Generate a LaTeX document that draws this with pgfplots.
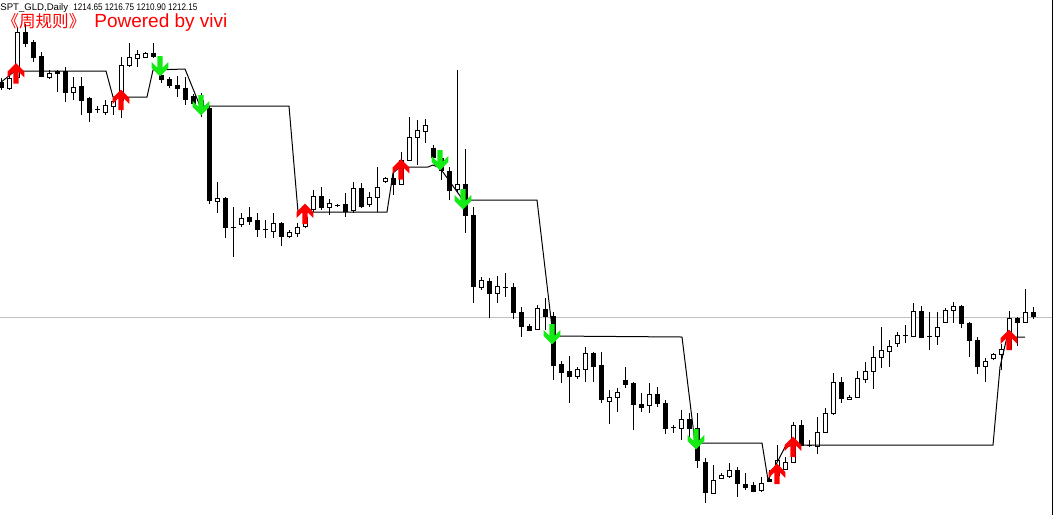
\documentclass[border=0pt]{standalone}
\usepackage{fontspec}
\setmainfont{Liberation Sans}
\newfontfamily\cjk{Noto Sans CJK SC}
\usepackage{graphicx}
\usepackage{pgfplots}
\usepackage{pgfplotstable}
\pgfplotsset{compat=1.18}
\definecolor{upred}{RGB}{255,0,0}
\definecolor{dngreen}{RGB}{20,235,20}
\definecolor{bidgray}{RGB}{192,192,192}
\pgfdeclareplotmark{uparr}{%
  \pgfpathmoveto{\pgfqpoint{0pt}{5.2pt}}%
  \pgfpathlineto{\pgfqpoint{4.2pt}{1pt}}%
  \pgfpathlineto{\pgfqpoint{4.2pt}{-2pt}}%
  \pgfpathlineto{\pgfqpoint{1.3pt}{0.9pt}}%
  \pgfpathlineto{\pgfqpoint{1.3pt}{-5pt}}%
  \pgfpathlineto{\pgfqpoint{-1.3pt}{-5pt}}%
  \pgfpathlineto{\pgfqpoint{-1.3pt}{0.9pt}}%
  \pgfpathlineto{\pgfqpoint{-4.2pt}{-2pt}}%
  \pgfpathlineto{\pgfqpoint{-4.2pt}{1pt}}%
  \pgfpathclose
  \pgfusepathqfill}
\pgfdeclareplotmark{dnarr}{%
  \pgfpathmoveto{\pgfqpoint{0pt}{-5.2pt}}%
  \pgfpathlineto{\pgfqpoint{4.2pt}{-1pt}}%
  \pgfpathlineto{\pgfqpoint{4.2pt}{2pt}}%
  \pgfpathlineto{\pgfqpoint{1.3pt}{-0.9pt}}%
  \pgfpathlineto{\pgfqpoint{1.3pt}{5pt}}%
  \pgfpathlineto{\pgfqpoint{-1.3pt}{5pt}}%
  \pgfpathlineto{\pgfqpoint{-1.3pt}{-0.9pt}}%
  \pgfpathlineto{\pgfqpoint{-4.2pt}{2pt}}%
  \pgfpathlineto{\pgfqpoint{-4.2pt}{-1pt}}%
  \pgfpathclose
  \pgfusepathqfill}
\pgfplotstableread{
x hi lo top bot w
1 78 90 82 87 0
9 75 90 78 88 1
17 27 77 32 77 1
25 24 47 32 43 0
33 40 62 42 57 0
41 52 77 56 76 0
49 70 79 73 77 1
57 70 92 71 73 0
65 67 102 71 92 0
73 77 100 87 92 1
81 77 115 86 100 0
89 97 122 98 112 0
97 106 113 109 109 0
105 100 115 105 112 1
113 97 115 101 106 1
121 57 118 65 100 1
129 43 67 57 65 1
137 50 67 54 58 1
145 52 58 53 57 1
153 43 58 53 56 0
161 72 83 75 79 0
169 77 88 79 85 0
177 76 97 85 88 0
185 77 105 88 99 0
193 94 106 96 103 0
201 93 117 100 110 0
209 106 204 108 200 0
217 182 213 198 201 1
225 197 238 198 227 0
233 207 257 227 227 0
241 213 227 218 224 1
249 207 225 217 221 0
257 213 237 220 229 0
265 220 238 229 229 0
273 213 238 223 231 1
281 222 246 223 236 0
289 230 238 232 236 1
297 223 237 227 233 1
305 212 228 217 226 1
313 190 212 196 209 1
321 187 210 196 207 0
329 199 215 203 207 1
337 204 207 205 205 0
345 193 217 204 211 0
353 182 213 188 210 1
361 183 208 188 206 0
369 192 207 197 204 1
377 167 212 187 197 1
385 177 183 178 181 1
393 170 195 178 184 0
401 152 185 160 184 1
409 117 160 137 160 1
417 120 165 130 137 1
425 119 143 125 131 1
433 145 160 148 157 0
441 150 180 158 170 0
449 167 200 171 190 0
457 70 193 184 189 1
465 149 233 184 215 0
473 207 303 215 286 0
481 277 290 280 287 1
489 278 318 281 293 0
497 276 303 286 293 1
505 273 297 287 287 0
513 283 319 287 312 0
521 307 337 312 326 0
529 324 331 326 330 0
537 305 330 308 329 1
545 298 330 309 316 0
553 312 380 316 365 0
561 361 383 364 372 0
569 356 403 371 376 0
577 367 379 369 376 1
585 347 382 353 369 1
593 352 382 353 366 0
601 352 403 365 399 0
609 390 424 397 401 1
617 388 412 392 397 1
625 367 388 380 384 0
633 382 430 383 404 0
641 393 412 404 407 0
649 383 413 394 405 1
657 387 407 394 403 0
665 400 434 403 428 0
673 425 433 427 427 0
681 410 440 419 428 1
689 413 443 419 428 0
697 413 468 428 460 0
705 458 503 462 492 0
713 465 493 480 493 1
721 473 479 475 478 1
729 463 478 470 476 1
737 467 497 470 483 0
745 473 490 484 487 0
753 482 492 485 491 0
761 477 492 483 490 1
769 470 482 479 481 0
777 445 483 460 475 1
785 457 470 462 469 1
793 422 463 425 462 1
801 420 446 425 445 0
809 440 447 445 445 0
817 417 454 432 446 1
825 408 433 413 432 1
833 373 415 382 413 1
841 377 403 382 398 0
849 395 400 397 399 1
857 371 398 378 397 1
865 362 383 371 379 1
873 346 389 357 371 1
881 327 368 350 357 1
889 340 367 346 351 1
897 332 347 335 343 1
905 325 343 335 335 0
913 303 337 311 336 1
921 306 338 311 337 0
929 312 350 336 336 0
937 312 345 327 336 1
945 308 323 310 322 1
953 302 323 306 310 1
961 305 328 306 323 0
969 322 357 323 340 0
977 337 374 340 366 0
985 358 382 361 366 1
993 353 360 354 358 1
1001 344 370 349 354 1
1009 311 350 318 349 1
1017 317 346 318 322 0
1025 289 323 312 322 1
1033 307 319 312 316 0
}\candles
\begin{document}
\begin{tikzpicture}
\begin{axis}[
  scale only axis, width=526.5pt, height=257.5pt,
  xmin=0, xmax=1053, ymin=0, ymax=515, y dir=reverse,
  axis line style={draw=none}, xtick=\empty, ytick=\empty,
  axis background/.style={fill=white},
  clip=true]
% bid line
\addplot[bidgray, line width=0.5pt, mark=none] coordinates {(0,317) (1053,317)};
% right border
\addplot[black, line width=0.6pt, mark=none] coordinates {(1052.3,0) (1052.3,515)};
% wicks
\addplot[draw=none, mark=none, error bars/.cd, y dir=both, y explicit, error mark=none,
  error bar style={draw=black, line width=0.5pt}]
  table[x=x, y expr={(\thisrow{hi}+\thisrow{lo})/2}, y error expr={(\thisrow{lo}-\thisrow{hi})/2}] {\candles};
% bodies (outer, black)
\addplot[draw=none, mark=none, error bars/.cd, y dir=both, y explicit, error mark=none,
  error bar style={draw=black, line width=2.5pt}]
  table[x=x, y expr={(\thisrow{top}+\thisrow{bot})/2}, y error expr={(\thisrow{bot}-\thisrow{top})/2+0.5}] {\candles};
% white inner of bull bodies
\addplot[draw=none, mark=none, error bars/.cd, y dir=both, y explicit, error mark=none,
  error bar style={draw=white, line width=1.5pt}]
  table[x=x, y expr={(\thisrow{top}+\thisrow{bot})/2}, y error expr={\thisrow{w}*max((\thisrow{bot}-\thisrow{top})/2-0.5,0)}] {\candles};
% weekly rule stop line
\addplot[black, line width=0.5pt, mark=none] coordinates {
(0,83) (15,71) (106,71) (113,97) (147,97) (153,70) (185,69) (200,106) (289,106)
(298,212) (387,212) (393,173) (400,167) (428,167) (433,165) (440,168) (463,200)
(537,200) (553,336) (682,337) (695,443) (762,443) (768,480) (785,447) (795,445)
(993,445) (1000,367) (1007,337) (1025,337)};
% buy arrows
\addplot[only marks, mark=uparr, upred] coordinates {
(16,73.5) (121,100) (305,214) (401,169.5) (777,474) (793,447) (1009,340)};
% sell arrows
\addplot[only marks, mark=dnarr, dngreen] coordinates {
(160,66) (201,105) (440,160) (463,199) (552,334) (696,439)};
% header texts
\node[anchor=base west, inner sep=0pt, font=\fontsize{4.8pt}{5pt}\selectfont] at (axis cs:0,10) {SPT\_GLD,Daily};
\node[anchor=base west, inner sep=0pt, font=\fontsize{4.8pt}{5pt}\selectfont] at (axis cs:73,10) {\resizebox{62pt}{\height}{1214.65 1216.75 1210.90 1212.15}};
\node[anchor=base west, inner sep=0pt, text=upred] at (axis cs:2,27.5) {{\cjk\fontsize{8.3pt}{8pt}\selectfont 《周规则》}\hspace{4.5pt}{\fontsize{9.5pt}{9pt}\selectfont Powered by vivi}};
\end{axis}
\end{tikzpicture}
\end{document}
